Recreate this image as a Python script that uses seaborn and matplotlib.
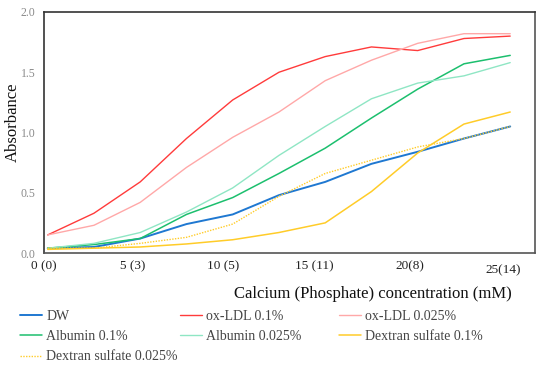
import matplotlib
matplotlib.use("Agg")
import matplotlib.pyplot as plt
import seaborn as sns
import pandas as pd
from matplotlib.lines import Line2D
import matplotlib.transforms as mtransforms

sns.set_theme(style="white")
plt.rcParams['font.family'] = ['Liberation Serif', 'DejaVu Serif']

conc = [0, 2.5, 5, 7.5, 10, 12.5, 15, 17.5, 20, 22.5, 25]
tick_labels = ["0 (0)", "5 (3)", "10 (5)", "15 (11)", "20(8)", "25(14)"]

dw = [0.04, 0.05, 0.12, 0.24, 0.32, 0.48, 0.59, 0.74, 0.84, 0.95, 1.05]
oxldl_01 = [0.15, 0.33, 0.59, 0.95, 1.27, 1.50, 1.63, 1.71, 1.68, 1.78, 1.80]
oxldl_0025 = [0.15, 0.23, 0.42, 0.71, 0.96, 1.17, 1.43, 1.60, 1.74, 1.82, 1.82]
alb_01 = [0.04, 0.07, 0.12, 0.32, 0.46, 0.66, 0.87, 1.12, 1.36, 1.57, 1.64]
alb_0025 = [0.04, 0.08, 0.17, 0.34, 0.54, 0.81, 1.05, 1.28, 1.41, 1.47, 1.58]
dex_01 = [0.03, 0.04, 0.05, 0.075, 0.11, 0.17, 0.25, 0.51, 0.83, 1.07, 1.17]
dex_0025 = [0.04, 0.04, 0.08, 0.13, 0.24, 0.47, 0.66, 0.77, 0.88, 0.95, 1.05]

series_names = ["DW", "ox-LDL 0.1%", "ox-LDL 0.025%", "Albumin 0.1%",
                "Albumin 0.025%", "Dextran sulfate 0.1%", "Dextran sulfate 0.025%"]
series_vals = [dw, oxldl_01, oxldl_0025, alb_01, alb_0025, dex_01, dex_0025]

styles = {
    "DW": dict(color="#1f78d1", lw=1.4, ls="-"),
    "ox-LDL 0.1%": dict(color="#ff3b3b", lw=1.0, ls="-"),
    "ox-LDL 0.025%": dict(color="#ffa8a8", lw=1.0, ls="-"),
    "Albumin 0.1%": dict(color="#1cbf6e", lw=1.1, ls="-"),
    "Albumin 0.025%": dict(color="#8fe6c4", lw=1.0, ls="-"),
    "Dextran sulfate 0.1%": dict(color="#ffcc29", lw=1.1, ls="-"),
    "Dextran sulfate 0.025%": dict(color="#ffcc29", lw=1.0, ls=(0, (1, 1))),
}

fig = plt.figure(figsize=(5.5, 3.71), dpi=100)
ax = fig.add_axes([44/550, 1-253/371, (535-44)/550, (253-12)/371])

handles = {}
for name, vals in zip(series_names, series_vals):
    df = pd.DataFrame({"x": conc, "y": vals})
    st = styles[name]
    sns.lineplot(data=df, x="x", y="y", ax=ax, color=st["color"], linewidth=st["lw"],
                 linestyle=st["ls"], legend=False)
    handles[name] = Line2D([], [], color=st["color"], lw=st["lw"], ls=st["ls"])

ax.set_xlim(0, 26.34)
ax.set_ylim(0, 2.0)
ax.set_yticks([0, 0.5, 1.0, 1.5, 2.0])
ax.set_yticklabels(["0.0", "0.5", "1.0", "1.5", "2.0"], color="#8a8a8a", fontsize=8.5)
ax.set_xticks([-0.2, 4.6, 9.5, 14.4, 19.6, 24.6])
ax.set_xticklabels(tick_labels, fontsize=9.5, color="#222222")
ax.tick_params(axis="y", length=0, pad=6)
ax.tick_params(axis="x", length=0, pad=5)
# last label sits slightly lower
lbl = ax.get_xticklabels()[-1]
lbl.set_transform(lbl.get_transform() + mtransforms.ScaledTranslation(0, -4/100, fig.dpi_scale_trans))

ax.set_xlabel("")
ax.set_ylabel("")
fig.text(13/550, 1-122/371, "Absorbance", rotation=90, ha="center", va="center",
         fontsize=12, color="#111111")
for s in ax.spines.values():
    s.set_color("#555555")
    s.set_linewidth(1.2)
ax.spines["left"].set_color("#333333")
ax.spines["top"].set_color("#333333")

fig.text(512/550, 1-294/371, "Calcium (Phosphate) concentration (mM)", ha="right", va="center",
         fontsize=12, color="#111111")

cols = [
    (["DW", "Albumin 0.1%", "Dextran sulfate 0.025%"], 20),
    (["ox-LDL 0.1%", "Albumin 0.025%"], 180),
    (["ox-LDL 0.025%", "Dextran sulfate 0.1%"], 339),
]
for names, xpx in cols:
    leg = fig.legend([handles[n] for n in names], names, loc="upper left",
                     bbox_to_anchor=(xpx/550, 1-310/371), frameon=False, fontsize=10,
                     handlelength=1.6, handletextpad=0.3, labelspacing=0.52,
                     borderpad=0, borderaxespad=0)
    for t in leg.get_texts():
        t.set_color("#444444")

fig.savefig("out.png", dpi=100)
